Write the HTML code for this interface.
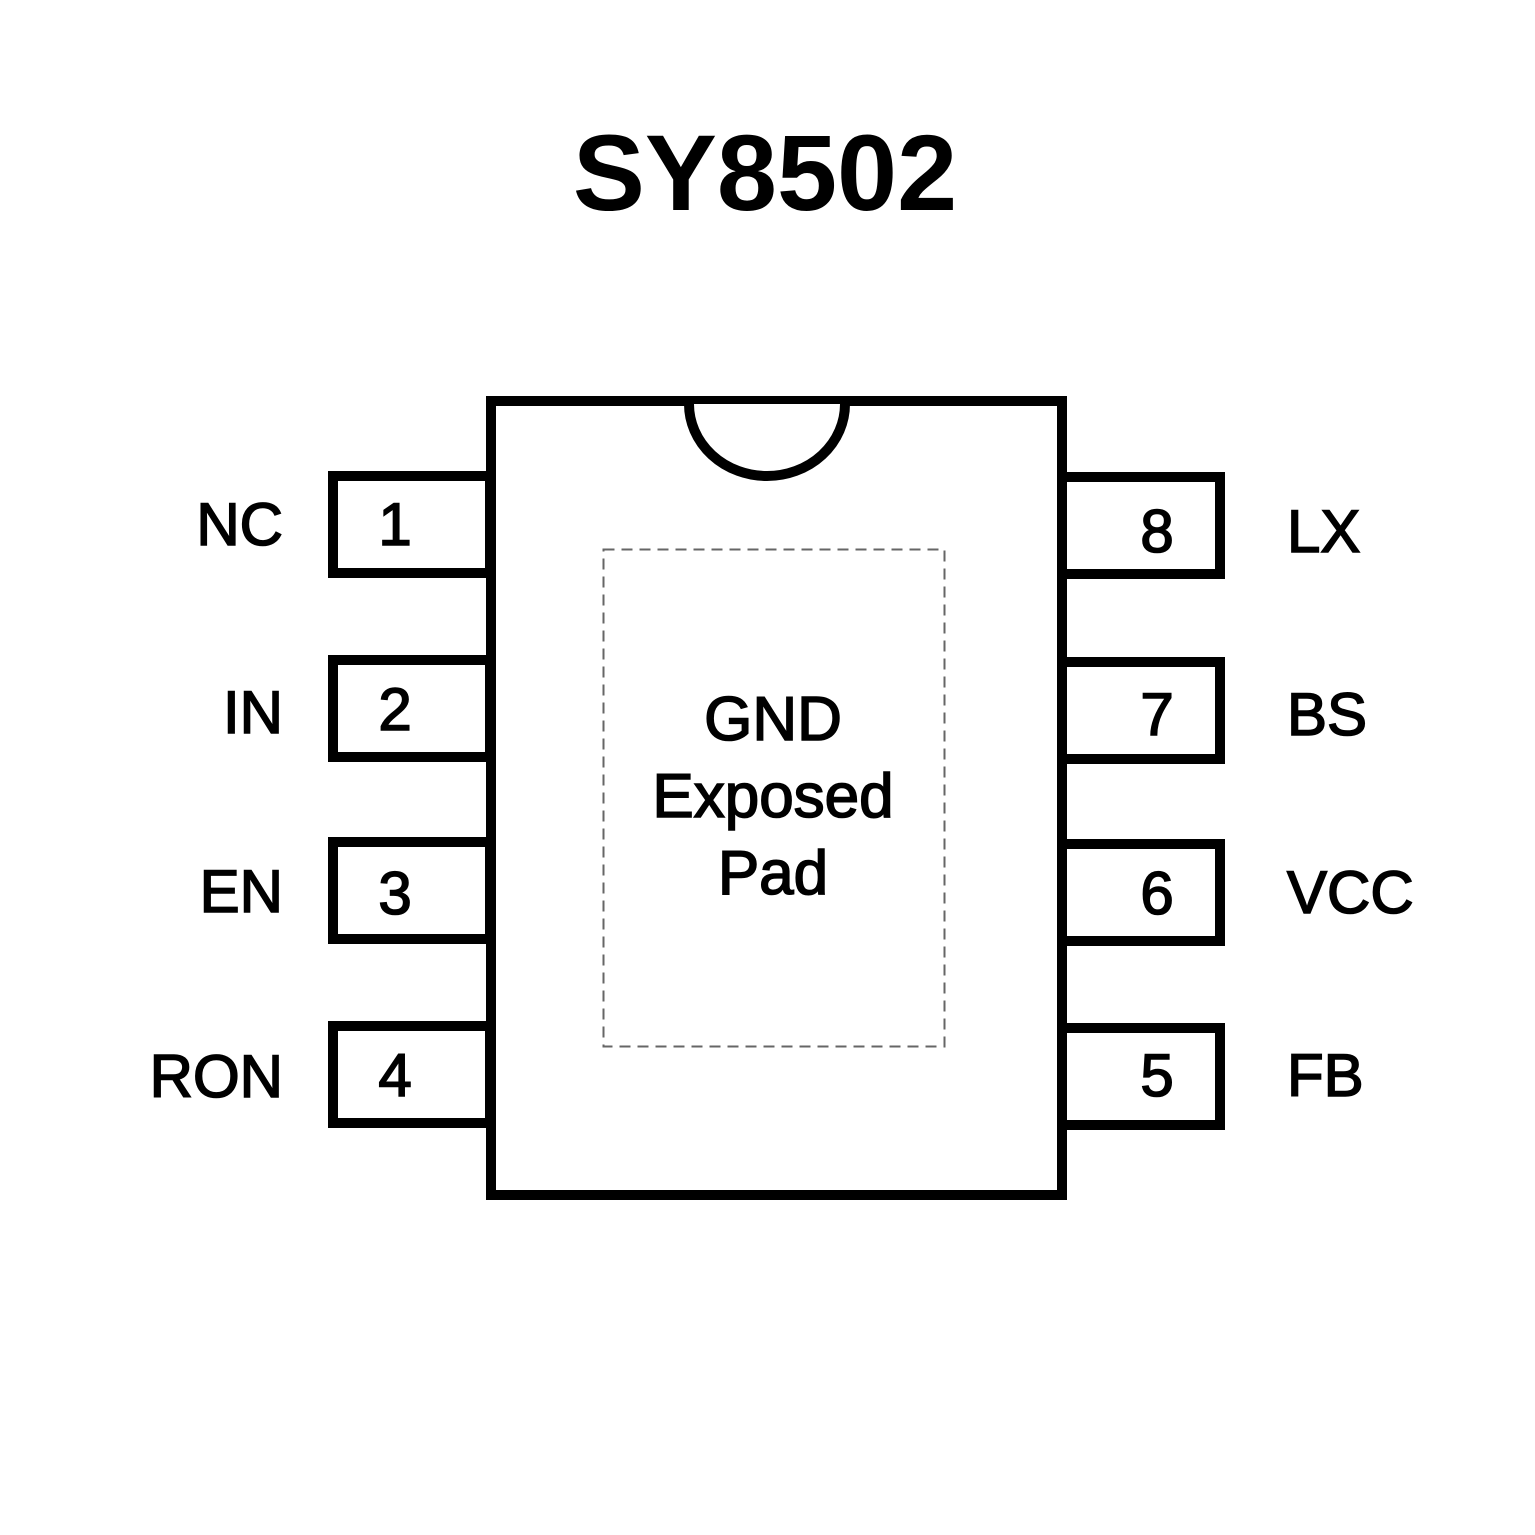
<!DOCTYPE html>
<html><head><meta charset="utf-8"><style>
html,body{margin:0;padding:0;background:#fff;}
svg{display:block;}
text{font-family:"Liberation Sans",Arial,sans-serif;fill:#000;}
</style></head><body>
<svg width="1535" height="1535" viewBox="0 0 1535 1535" xmlns="http://www.w3.org/2000/svg">
<rect width="1535" height="1535" fill="#fff"/>
<text x="765" y="210" font-size="108" font-weight="bold" text-anchor="middle" style="font-family:'Liberation Sans','Noto Sans CJK SC',sans-serif">SY8502</text>
<g fill="#fff" stroke="#000" stroke-width="10" stroke-linejoin="miter">
<rect x="333" y="476" width="157" height="97"/>
<rect x="333" y="660" width="157" height="97"/>
<rect x="333" y="842" width="157" height="97"/>
<rect x="333" y="1026" width="157" height="97"/>
<rect x="1062" y="477" width="158" height="97"/>
<rect x="1062" y="662" width="158" height="97"/>
<rect x="1062" y="844" width="158" height="97"/>
<rect x="1062" y="1028" width="158" height="97"/>
<rect x="491" y="401" width="571" height="794"/>
<path d="M689 404 A78 72 0 0 0 845 404"/>
</g>
<rect x="603.5" y="549.5" width="341" height="497" fill="none" stroke="#666" stroke-width="2" stroke-dasharray="11,7"/>
<g font-size="60" stroke="#000" stroke-width="1.6">
<text x="283" y="545" text-anchor="end">NC</text>
<text x="283" y="733" text-anchor="end">IN</text>
<text x="283" y="912" text-anchor="end">EN</text>
<text x="283" y="1097" text-anchor="end">RON</text>
<text x="395" y="545" text-anchor="middle">1</text>
<text x="395" y="730" text-anchor="middle">2</text>
<text x="395" y="914" text-anchor="middle">3</text>
<text x="395" y="1096" text-anchor="middle">4</text>
<text x="1157" y="552" text-anchor="middle">8</text>
<text x="1157" y="735" text-anchor="middle">7</text>
<text x="1157" y="914" text-anchor="middle">6</text>
<text x="1157" y="1096" text-anchor="middle">5</text>
<text x="1287" y="552">LX</text>
<text x="1287" y="735">BS</text>
<text x="1287" y="913">VCC</text>
<text x="1287" y="1096">FB</text>
<text x="773" y="740" text-anchor="middle" font-size="62">GND</text>
<text x="773" y="817" text-anchor="middle" font-size="62">Exposed</text>
<text x="773" y="894" text-anchor="middle" font-size="62">Pad</text>
</g>
</svg>
</body></html>
